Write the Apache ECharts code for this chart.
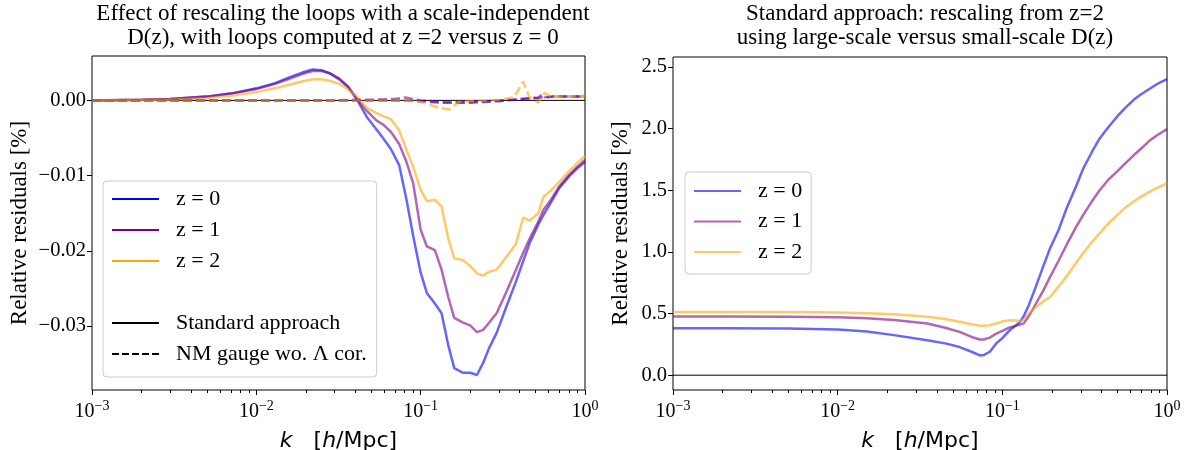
<!DOCTYPE html>
<html>
<head>
<meta charset="utf-8">
<script src="https://cdn.jsdelivr.net/npm/echarts@6/dist/echarts.min.js"></script>
<style>
  html, body { margin: 0; padding: 0; background: #fff; }
  #chart { width: 1188px; height: 450px; }
</style>
</head>
<body>
<div id="chart"></div>
<script>
// left panel: loops computed at z=2 vs z=0 (solid) and NM gauge (dashed)
var kLeft = [0.001, 0.002, 0.003, 0.005, 0.007, 0.01, 0.013, 0.016, 0.019, 0.022, 0.025, 0.028, 0.032, 0.036, 0.041,
  0.047, 0.054, 0.059, 0.066, 0.074, 0.082, 0.09, 0.1, 0.109, 0.122, 0.134, 0.147, 0.16, 0.18, 0.2, 0.22, 0.24, 0.26,
  0.29, 0.33, 0.38, 0.42, 0.46, 0.52, 0.56, 0.62, 0.7, 0.8, 0.9, 1.0];
var leftZ0 = [0, 0.0001, 0.0002, 0.0005, 0.0009, 0.0016, 0.0023, 0.0031, 0.0037, 0.0041, 0.0040, 0.0036, 0.0028, 0.0018, 0.0001,
  -0.0022, -0.0039, -0.0050, -0.0065, -0.0086, -0.0132, -0.0180, -0.0229, -0.0256, -0.0270, -0.0283, -0.0325, -0.0356, -0.0362, -0.0362, -0.0365, -0.0349, -0.0330,
  -0.0309, -0.0276, -0.0241, -0.0214, -0.0190, -0.0165, -0.0152, -0.0136, -0.0116, -0.0101, -0.0090, -0.0082];
var leftZ1 = [0, 0.0001, 0.0002, 0.0005, 0.0009, 0.0015, 0.0022, 0.0029, 0.0035, 0.0039, 0.0039, 0.0036, 0.0029, 0.0019, 0.0002,
  -0.0014, -0.0027, -0.0032, -0.0042, -0.0058, -0.0082, -0.0110, -0.0172, -0.0194, -0.0199, -0.0225, -0.0261, -0.0289, -0.0295, -0.0299, -0.0308, -0.0305, -0.0296,
  -0.0283, -0.0256, -0.0225, -0.0203, -0.0184, -0.0161, -0.0145, -0.0132, -0.0114, -0.0099, -0.0088, -0.0079];
var leftZ2 = [0, 0.0001, 0.0001, 0.0003, 0.0006, 0.0011, 0.0016, 0.0021, 0.0025, 0.0028, 0.0028, 0.0026, 0.0022, 0.0015, 0.0005,
  -0.0010, -0.0017, -0.0021, -0.0025, -0.0040, -0.0066, -0.0088, -0.0119, -0.0134, -0.0132, -0.0141, -0.0183, -0.0210, -0.0212, -0.0220, -0.0230, -0.0233, -0.0228,
  -0.0225, -0.0209, -0.0191, -0.0156, -0.0160, -0.0150, -0.0128, -0.0120, -0.0108, -0.0094, -0.0083, -0.0074];

var kDash = [0.001, 0.003, 0.01, 0.03, 0.05, 0.07, 0.08, 0.1, 0.13, 0.15, 0.17, 0.2, 0.25, 0.3, 0.37, 0.42, 0.46, 0.52, 0.55, 0.57, 0.63, 0.7, 0.8, 1.0];
var dashZ0 = [0, 0, 0, 0, 0, 0, 0, -0.0001, -0.0003, -0.0003, -0.0003, -0.0003, -0.0002, -0.0001, 0.0001, 0.0002, 0.0003, 0.0003, 0.0004, 0.0004, 0.0005, 0.0005, 0.0005, 0.0005];
var dashZ1 = [0, 0, 0, 0, 0.0001, 0.0002, 0.0004, 0, -0.0002, -0.0002, -0.0002, -0.0002, -0.0001, 0, 0.0001, 0.0002, 0.0003, 0.0004, 0.0008, 0.0004, 0.0005, 0.0005, 0.0005, 0.0005];
var dashZ2 = [0, 0, 0, 0, 0, 0, 0, -0.0002, -0.0010, -0.0012, -0.0002, -0.0001, 0, 0.0001, 0.0004, 0.0025, 0.0004, -0.0003, 0.0006, 0.0010, 0.0004, 0.0005, 0.0005, 0.0006];

// right panel: rescaling from z=2 with large-scale vs small-scale D(z)
var kRight = [0.001, 0.002, 0.005, 0.01, 0.015, 0.022, 0.035, 0.045, 0.055, 0.065, 0.073, 0.077, 0.084, 0.092, 0.1, 0.111,
  0.12, 0.128, 0.135, 0.145, 0.16, 0.178, 0.195, 0.22, 0.245, 0.28, 0.31, 0.35, 0.39, 0.44, 0.5, 0.56, 0.63, 0.7, 0.79, 0.88, 1.0];
var rightZ0 = [0.38, 0.38, 0.378, 0.37, 0.355, 0.325, 0.284, 0.258, 0.228, 0.19, 0.16, 0.163, 0.19, 0.26, 0.3, 0.365,
  0.40, 0.432, 0.48, 0.57, 0.72, 0.89, 1.03, 1.18, 1.35, 1.53, 1.676, 1.81, 1.92, 2.01, 2.10, 2.17, 2.235, 2.28, 2.325, 2.365, 2.40];
var rightZ1 = [0.475, 0.475, 0.474, 0.47, 0.462, 0.448, 0.419, 0.385, 0.351, 0.31, 0.29, 0.29, 0.305, 0.338, 0.36, 0.387,
  0.40, 0.41, 0.42, 0.48, 0.58, 0.69, 0.797, 0.93, 1.054, 1.20, 1.30, 1.41, 1.50, 1.585, 1.655, 1.72, 1.785, 1.84, 1.906, 1.95, 1.995];
var rightZ2 = [0.513, 0.513, 0.512, 0.508, 0.503, 0.495, 0.473, 0.455, 0.433, 0.413, 0.40, 0.40, 0.405, 0.42, 0.435, 0.446,
  0.443, 0.44, 0.45, 0.50, 0.554, 0.60, 0.635, 0.72, 0.80, 0.91, 0.99, 1.08, 1.15, 1.23, 1.30, 1.36, 1.41, 1.45, 1.49, 1.52, 1.555];

var zNames = ['z = 0', 'z = 1', 'z = 2'];
var styleNames = ['Standard approach', 'NM gauge wo. \u039b cor.'];
var xMajorTicks = [0.001, 0.01, 0.1, 1];
var xMinorTicks = [0.002, 0.003, 0.004, 0.005, 0.006, 0.007, 0.008, 0.009,
  0.02, 0.03, 0.04, 0.05, 0.06, 0.07, 0.08, 0.09,
  0.2, 0.3, 0.4, 0.5, 0.6, 0.7, 0.8, 0.9];
var leftYTicks = [-0.03, -0.02, -0.01, 0];
var rightYTicks = [0, 0.5, 1, 1.5, 2, 2.5];

var lineColors = ['rgba(0,0,255,0.6)', 'rgba(128,0,128,0.6)', 'rgba(255,165,0,0.6)'];
var legendColors = ['blue', 'purple', 'orange'];
var SERIF = 'Liberation Serif';
var SANS = 'DejaVu Sans';

function pairs(xs, ys) {
  return xs.map(function (x, i) { return [x, ys[i]]; });
}

function powLabel(v) {
  var e = Math.round(Math.log10(v));
  var s = e < 0 ? '\u2212' + (-e) : String(e);
  return '{b|10}{s|' + s + '}';
}

function xAxes(gridIndex) {
  return [{
    type: 'log', gridIndex: gridIndex, position: 'bottom', min: 0.001, max: 1, logBase: 10,
    name: '{i|k}   [{i|h}/Mpc]', nameLocation: 'middle', nameGap: 40,
    nameTextStyle: {
      fontFamily: SANS, fontSize: 22, color: '#000',
      rich: { i: { fontFamily: SANS, fontStyle: 'italic', fontSize: 22, color: '#000' } }
    },
    axisLine: { show: false, onZero: false },
    axisTick: { show: true, length: 5, lineStyle: { color: '#000' }, customValues: xMajorTicks },
    axisLabel: {
      margin: 9, color: '#000', customValues: xMajorTicks, formatter: powLabel,
      rich: {
        b: { fontFamily: SERIF, fontSize: 20, color: '#000' },
        s: { fontFamily: SERIF, fontSize: 14, color: '#000', padding: [0, 0, 12, 0] }
      }
    },
    splitLine: { show: false }
  }, {
    type: 'log', gridIndex: gridIndex, position: 'bottom', min: 0.001, max: 1, logBase: 10,
    axisLine: { show: false, onZero: false },
    axisTick: { show: true, length: 3, lineStyle: { color: '#000' }, customValues: xMinorTicks },
    axisLabel: { show: false },
    splitLine: { show: false }
  }];
}

function yAxis(gridIndex, min, max, ticks, digits, gap) {
  return {
    type: 'value', gridIndex: gridIndex, min: min, max: max,
    name: 'Relative residuals [%]', nameLocation: 'middle', nameGap: gap,
    nameTextStyle: { fontFamily: SERIF, fontSize: 23, color: '#000' },
    axisLine: { show: false },
    axisTick: { show: true, length: 5, lineStyle: { color: '#000' }, customValues: ticks },
    axisLabel: {
      fontFamily: SERIF, fontSize: 20.5, color: '#000', margin: 6, customValues: ticks,
      formatter: function (v) {
        var t = Math.abs(v).toFixed(digits);
        return v < 0 ? '\u2212' + t : t;
      }
    },
    splitLine: { show: false }
  };
}

function line(name, xi, yi, data, color, width, type) {
  return {
    name: name, type: 'line', xAxisIndex: xi, yAxisIndex: yi, data: data,
    symbol: 'none', smooth: false, silent: true, animation: false,
    lineStyle: { color: color, width: width, type: type || 'solid' },
    itemStyle: { color: color }
  };
}

var series = [];
// zero lines
series.push(line('zeroL', 0, 0, pairs([0.001, 1], [0, 0]), '#000', 1));
series.push(line('zeroR', 2, 1, pairs([0.001, 1], [0, 0]), '#000', 1));
// left solid + dashed
[leftZ0, leftZ1, leftZ2].forEach(function (d, i) {
  series.push(line('L' + i, 0, 0, pairs(kLeft, d), lineColors[i], 2.5));
});
[dashZ0, dashZ1, dashZ2].forEach(function (d, i) {
  series.push(line('D' + i, 0, 0, pairs(kDash, d), lineColors[i], 2.5, [9, 4]));
});
// legend-only entries for left panel
zNames.forEach(function (n, i) {
  series.push(line(n, 0, 0, [], legendColors[i], 2));
});
series.push(line(' ', 0, 0, [], 'rgba(0,0,0,0)', 0));
series.push(line(styleNames[0], 0, 0, [], '#000', 2.5));
series.push(line(styleNames[1], 0, 0, [], '#000', 2.5, [7, 3]));
// right panel
[rightZ0, rightZ1, rightZ2].forEach(function (d, i) {
  series.push(line('R ' + zNames[i], 2, 1, pairs(kRight, d), lineColors[i], 2.5));
});

var legendBase = {
  orient: 'vertical',
  itemWidth: 47, itemHeight: 14, itemGap: 9,
  backgroundColor: 'rgba(255,255,255,0.8)', borderColor: '#cccccc', borderWidth: 1, borderRadius: 4,
  selectedMode: false,
  itemStyle: { color: 'rgba(0,0,0,0)', borderColor: 'rgba(0,0,0,0)', borderWidth: 0 },
  textStyle: { fontFamily: SERIF, fontSize: 22, color: '#000', lineHeight: 20, padding: [0, 0, 0, 12] }
};

var option = {
  backgroundColor: '#fff',
  animation: false,
  title: [{
    text: 'Effect of rescaling the loops with a scale-independent\nD(z), with loops computed at z =2 versus z = 0',
    left: 338, top: -3, textAlign: 'center',
    textStyle: { fontFamily: SERIF, fontSize: 23, fontWeight: 'normal', color: '#000', lineHeight: 24 }
  }, {
    text: 'Standard approach: rescaling from z=2\nusing large-scale versus small-scale D(z)',
    left: 920, top: -3, textAlign: 'center',
    textStyle: { fontFamily: SERIF, fontSize: 23, fontWeight: 'normal', color: '#000', lineHeight: 24 }
  }],
  legend: [
    Object.assign({}, legendBase, {
      left: 103, top: 181, padding: [7, 10, 12, 8],
      data: zNames.concat([' ']).concat(styleNames)
    }),
    Object.assign({}, legendBase, {
      left: 685, top: 172, padding: [8, 9, 11, 8], itemGap: 8.5,
      data: zNames.map(function (n) { return 'R ' + n; }),
      formatter: function (n) { return n.slice(2); }
    })
  ],
  grid: [
    { left: 92, top: 56, width: 493, height: 334, show: true, borderColor: '#000', borderWidth: 1,
      backgroundColor: 'transparent', outerBoundsMode: 'none', containLabel: false },
    { left: 673, top: 57, width: 494, height: 333, show: true, borderColor: '#000', borderWidth: 1,
      backgroundColor: 'transparent', outerBoundsMode: 'none', containLabel: false }
  ],
  xAxis: xAxes(0).concat(xAxes(1)),
  yAxis: [
    yAxis(0, -0.0385, 0.0059, leftYTicks, 2, 61),
    yAxis(1, -0.12, 2.58, rightYTicks, 1, 41)
  ],
  series: series
};

var chart = echarts.init(document.getElementById('chart'), null, { renderer: 'canvas' });
chart.setOption(option);
</script>
</body>
</html>
